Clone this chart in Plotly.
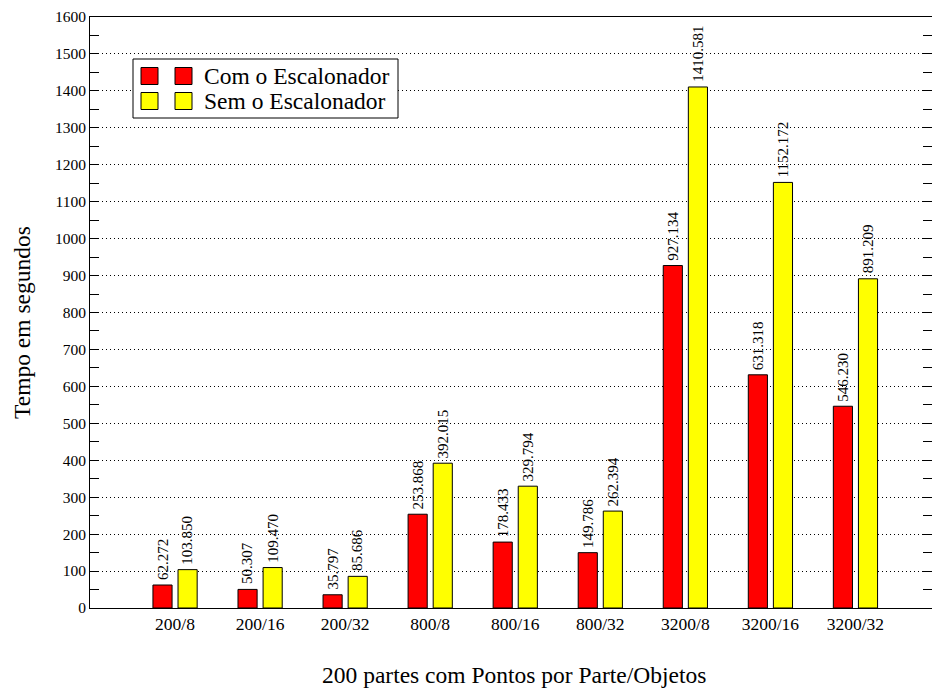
import plotly.graph_objects as go

categories = ["200/8", "200/16", "200/32", "800/8", "800/16", "800/32", "3200/8", "3200/16", "3200/32"]
com_escalonador = [62.272, 50.307, 35.797, 253.868, 178.433, 149.786, 927.134, 631.318, 546.230]
sem_escalonador = [103.850, 109.470, 85.686, 392.015, 329.794, 262.394, 1410.581, 1152.172, 891.209]
series_names = ["Com o Escalonador", "Sem o Escalonador"]
y_ticks = list(range(0, 1601, 100))
x_title = "200 partes com Pontos por Parte/Objetos"
y_title = "Tempo em segundos"

W, H = 932, 689
L, R, T, B = 90, 0, 17, 81
PW, PH = W - L - R, H - T - B
FONT = "Liberation Serif"

def px(x):
    return (x - L) / PW

def py(y):
    return (H - B - y) / PH

pos = list(range(len(categories)))
bw = 0.225
off_red, off_yel = -0.26, 0.035

fig = go.Figure()
fig.add_trace(go.Bar(x=pos, y=com_escalonador, width=bw, offset=off_red, name=series_names[0],
                     marker=dict(color="#ff0000", line=dict(color="black", width=1)), showlegend=False))
fig.add_trace(go.Bar(x=pos, y=sem_escalonador, width=bw, offset=off_yel, name=series_names[1],
                     marker=dict(color="#ffff00", line=dict(color="black", width=1)), showlegend=False))

annotations = []
for i in pos:
    for val, off in ((com_escalonador[i], off_red), (sem_escalonador[i], off_yel)):
        annotations.append(dict(x=i + off + bw / 2, y=val, xref="x", yref="y", text=f"{val:.3f}",
                                textangle=-90, showarrow=False, xanchor="center", yanchor="bottom",
                                yshift=3, font=dict(family=FONT, size=15, color="black")))

# manual legend (two swatches per entry, like the original)
shapes = [dict(type="rect", xref="paper", yref="paper", x0=px(133), x1=px(398), y0=py(118), y1=py(59),
               fillcolor="white", line=dict(color="black", width=1), layer="above")]
for name, color, cy in ((series_names[0], "#ff0000", 76), (series_names[1], "#ffff00", 101)):
    for sx in (141, 175):
        shapes.append(dict(type="rect", xref="paper", yref="paper", x0=px(sx), x1=px(sx + 17),
                           y0=py(cy + 8.5), y1=py(cy - 8.5), fillcolor=color,
                           line=dict(color="black", width=1), layer="above"))
    annotations.append(dict(x=px(202), y=py(cy), xref="paper", yref="paper", text=name, showarrow=False,
                            xanchor="left", yanchor="middle", font=dict(family=FONT, size=23.5, color="black")))

# axis titles
annotations.append(dict(x=px(514), y=py(675), xref="paper", yref="paper", text=x_title, showarrow=False,
                        xanchor="center", yanchor="middle", font=dict(family=FONT, size=23.5, color="black")))
annotations.append(dict(x=px(22), y=py(323), xref="paper", yref="paper", text=y_title, showarrow=False,
                        textangle=-90, xanchor="center", yanchor="middle",
                        font=dict(family=FONT, size=23.5, color="black")))

fig.update_layout(
    width=W, height=H, margin=dict(l=L, r=R, t=T, b=B, pad=0),
    paper_bgcolor="white", plot_bgcolor="white",
    barmode="overlay", showlegend=False,
    font=dict(family=FONT, color="black"),
    shapes=shapes, annotations=annotations,
    xaxis=dict(range=[-1, 8.9], tickvals=pos, ticktext=categories, ticks="", showgrid=False,
               showline=True, linecolor="black", linewidth=1, mirror=True, zeroline=False,
               tickfont=dict(family=FONT, size=17.5, color="black")),
    yaxis=dict(range=[0, 1600], tickvals=y_ticks, ticks="inside", ticklen=9, tickcolor="black",
               showline=True, linecolor="black", linewidth=1, mirror="ticks", zeroline=False,
               showgrid=True, gridcolor="black", gridwidth=1, griddash="1px,3px",
               minor=dict(dtick=50, ticks="inside", ticklen=9, tickcolor="black", showgrid=False),
               tickfont=dict(family=FONT, size=15.5, color="black")),
)

fig.write_html("out.html")
